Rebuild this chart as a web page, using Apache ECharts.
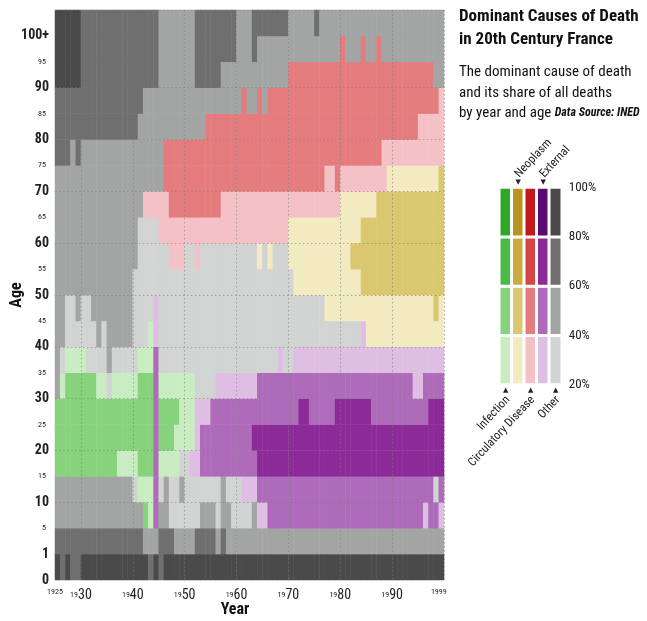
<!DOCTYPE html>
<html>
<head>
<meta charset="utf-8">
<script src="https://cdn.jsdelivr.net/npm/echarts@6/dist/echarts.min.js"></script>
<style>
  html, body { margin: 0; padding: 0; background: #fff; }
  #chart { width: 647px; height: 621px; }
</style>
</head>
<body>
<div id="chart"></div>
<script>
// -----------------------------------------------------------------------------
// Causes de deces dominantes - France, XXe siecle (heatmap annee x age)
// -----------------------------------------------------------------------------
const ageLabels = ["0", "1", "5", "10", "15", "20", "25", "30", "35", "40", "45", "50",
  "55", "60", "65", "70", "75", "80", "85", "90", "95", "100+"];
const firstYear = 1925;
const lastYear = 1999;
const yearTicks = [1925, 1930, 1940, 1950, 1960, 1970, 1980, 1990, 1999];
const causeNames = ["Infection", "Neoplasm", "Circulatory Disease", "External", "Other"];
const causeCodes = ["I", "N", "C", "E", "O"];
const shareTicks = [20, 40, 60, 80, 100];

// Cause dominante + classe de part (1: 20-40%, 2: 40-60%, 3: 60-80%, 4: 80-100%)
// chaque ligne = suites [code, derniere annee]
const age0 = [["O4", 1925], ["O3", 1926], ["O4", 1927], ["O3", 1929], ["O4", 1942], ["O3", 1943], ["O4", 1944], ["O3", 1945], ["O4", 1999]];
const age1 = [["O3", 1941], ["O2", 1944], ["O3", 1947], ["O2", 1951], ["O3", 1955], ["O2", 1956], ["O3", 1957], ["O2", 1999]];
const age5 = [["O2", 1941], ["I2", 1942], ["I1", 1943], ["E2", 1944], ["O2", 1946], ["O1", 1952], ["O2", 1955], ["O1", 1956], ["O2", 1958], ["O1", 1962], ["O2", 1963], ["E1", 1965], ["E2", 1995], ["E1", 1996], ["E2", 1998], ["E1", 1999]];
const age10 = [["O2", 1939], ["O1", 1940], ["I1", 1943], ["E2", 1944], ["O1", 1945], ["O2", 1946], ["O1", 1948], ["O2", 1949], ["O1", 1956], ["O2", 1957], ["O1", 1960], ["E1", 1963], ["E2", 1997], ["O1", 1998], ["E2", 1999]];
const age15 = [["I2", 1936], ["I1", 1940], ["I2", 1943], ["E2", 1944], ["I1", 1948], ["O1", 1950], ["E1", 1952], ["E2", 1963], ["E3", 1999]];
const age20 = [["I2", 1943], ["E2", 1944], ["I2", 1947], ["I1", 1951], ["E1", 1952], ["E2", 1962], ["E3", 1999]];
const age25 = [["I2", 1943], ["E2", 1944], ["I2", 1948], ["I1", 1951], ["E1", 1954], ["E2", 1971], ["E3", 1973], ["E2", 1978], ["E3", 1985], ["E2", 1996], ["E3", 1999]];
const age30 = [["O2", 1925], ["I1", 1926], ["I2", 1932], ["I1", 1934], ["O1", 1935], ["I1", 1940], ["I2", 1943], ["E2", 1944], ["I1", 1951], ["O1", 1955], ["E1", 1963], ["E2", 1993], ["E1", 1995], ["E2", 1999]];
const age35 = [["O2", 1925], ["O1", 1926], ["I1", 1930], ["O1", 1934], ["O2", 1935], ["O1", 1940], ["I1", 1943], ["E2", 1944], ["O1", 1967], ["E1", 1968], ["O1", 1970], ["E1", 1999]];
const age40 = [["O2", 1926], ["O1", 1932], ["O2", 1933], ["O1", 1934], ["O2", 1939], ["O1", 1942], ["I1", 1943], ["E1", 1944], ["O1", 1983], ["E1", 1984], ["N1", 1999]];
const age45 = [["O2", 1926], ["O1", 1928], ["O2", 1929], ["O1", 1931], ["O2", 1939], ["O1", 1943], ["E1", 1944], ["O1", 1976], ["N1", 1997], ["N2", 1998], ["N1", 1999]];
const age50 = [["O2", 1939], ["O1", 1970], ["N1", 1983], ["N2", 1999]];
const age55 = [["O2", 1940], ["O1", 1946], ["C1", 1949], ["O1", 1951], ["C1", 1952], ["O1", 1963], ["N1", 1964], ["O1", 1965], ["N1", 1966], ["O1", 1969], ["N1", 1981], ["N2", 1999]];
const age60 = [["O2", 1940], ["O1", 1944], ["C1", 1969], ["N1", 1983], ["N2", 1999]];
const age65 = [["O2", 1941], ["C1", 1946], ["C2", 1956], ["C1", 1979], ["N1", 1986], ["N2", 1999]];
const age70 = [["O2", 1945], ["C2", 1976], ["C1", 1978], ["C2", 1979], ["C1", 1988], ["N1", 1998], ["N2", 1999]];
const age75 = [["O3", 1927], ["O2", 1928], ["O3", 1929], ["O2", 1945], ["C2", 1987], ["C1", 1999]];
const age80 = [["O3", 1940], ["O2", 1953], ["C2", 1994], ["C1", 1999]];
const age85 = [["O3", 1941], ["O2", 1960], ["C2", 1961], ["O2", 1963], ["C2", 1964], ["O2", 1965], ["C2", 1998], ["C1", 1999]];
const age90 = [["O4", 1929], ["O3", 1944], ["O2", 1951], ["O3", 1956], ["O2", 1969], ["C2", 1997], ["O2", 1999]];
const age95 = [["O4", 1929], ["O3", 1944], ["O2", 1951], ["O3", 1959], ["O2", 1962], ["O3", 1963], ["O2", 1979], ["C2", 1980], ["O2", 1983], ["C2", 1984], ["O2", 1986], ["C2", 1987], ["O2", 1999]];
const age100 = [["O4", 1929], ["O3", 1944], ["O2", 1951], ["O3", 1959], ["O2", 1962], ["O3", 1969], ["O2", 1974], ["O3", 1975], ["O2", 1999]];

const rows = [age0, age1, age5, age10, age15, age20, age25, age30, age35, age40, age45,
  age50, age55, age60, age65, age70, age75, age80, age85, age90, age95, age100];

const PALETTE = {
  I: ["#c9ecc3", "#86d27d", "#4cba46", "#2ea82b"],
  N: ["#f2eac0", "#dac86f", "#ccab3e", "#b8931d"],
  C: ["#f4c1c7", "#e47c7e", "#d44546", "#c0181e"],
  E: ["#dfbee3", "#ad6bba", "#8c2b97", "#5c0871"],
  O: ["#d2d4d3", "#a3a5a4", "#6f6f6f", "#4a4a4a"]
};
const FONT = '"Roboto Condensed","Liberation Sans Narrow","DejaVu Sans Condensed",Roboto,sans-serif';
const INK = "#222";

const years = [];
for (let y = firstYear; y <= lastYear; y++) years.push(String(y));

const cells = [];
rows.forEach((runs, r) => {
  let y = firstYear;
  runs.forEach(([code, until]) => {
    for (; y <= until; y++) {
      const lvl = +code[1];
      cells.push({ value: [y - firstYear, r, lvl], itemStyle: { color: PALETTE[code[0]][lvl - 1] } });
    }
  });
});

const legendCells = [];
causeCodes.forEach((c, i) => {
  [0, 1, 2, 3].forEach((b) => {
    legendCells.push({ value: [i, b, b + 1], itemStyle: { color: PALETTE[c][b] } });
  });
});

const dotted = { color: "rgba(120,120,120,0.55)", width: 1, type: [1.5, 2.5] };
const bigAge = (i) => i < 2 || i % 2 === 1;

const chart = echarts.init(document.getElementById("chart"), null, { renderer: "canvas" });

chart.setOption({
  animation: false,
  backgroundColor: "#fff",
  textStyle: { fontFamily: FONT },
  grid: [
    { left: 55, top: 10, width: 389, height: 570 },
    { left: 499.25, top: 187.5, width: 62.5, height: 197 }
  ],
  xAxis: [
    {
      type: "category", gridIndex: 0, data: years, position: "bottom", z: 3,
      axisLine: { show: false }, axisTick: { show: false }, axisLabel: { show: false },
      splitLine: { show: true, interval: (i) => i > 0 && (firstYear + i) % 10 === 0, lineStyle: dotted }
    },
    {
      type: "value", gridIndex: 0, min: firstYear, max: lastYear + 1, position: "bottom",
      axisLine: { show: false }, axisTick: { show: false }, splitLine: { show: false },
      axisLabel: {
        customValues: yearTicks, margin: 8, color: INK,
        formatter: (v) => (v === firstYear || v === lastYear)
          ? `{s|${v}}` : `{s|${String(v).slice(0, 2)}}{b|${String(v).slice(2)}}`,
        rich: {
          s: { fontSize: 8, fontFamily: FONT, color: INK },
          b: { fontSize: 14, fontFamily: FONT, color: INK }
        }
      }
    },
    { type: "category", gridIndex: 1, data: causeNames, show: false }
  ],
  yAxis: [
    {
      type: "category", gridIndex: 0, data: ageLabels, position: "left", z: 3,
      axisLine: { show: false }, axisTick: { show: false }, axisLabel: { show: false },
      splitLine: { show: true, interval: (i) => i >= 3 && i <= 19 && i % 2 === 1, lineStyle: dotted }
    },
    {
      type: "value", gridIndex: 0, min: 0, max: ageLabels.length, interval: 1, position: "left",
      axisLine: { show: false }, axisTick: { show: false }, splitLine: { show: false },
      axisLabel: {
        margin: 6, color: INK,
        formatter: (v) => {
          const t = ageLabels[v];
          if (t == null) return "";
          return bigAge(v) ? `{b|${t}}` : `{s|${t}}`;
        },
        rich: {
          s: { fontSize: 8, fontFamily: FONT, color: INK, padding: [0, 3, 0, 0] },
          b: { fontSize: 14, fontWeight: "bold", fontFamily: FONT, color: INK }
        }
      }
    },
    { type: "category", gridIndex: 1, data: ["20", "40", "60", "80"], show: false },
    {
      type: "value", gridIndex: 1, min: 20, max: 100, interval: 20, position: "right",
      axisLine: { show: false }, axisTick: { show: false }, splitLine: { show: false },
      axisLabel: { margin: 7, fontSize: 13, color: INK, fontFamily: FONT, formatter: "{value}%" }
    }
  ],
  series: [
    {
      type: "heatmap", xAxisIndex: 0, yAxisIndex: 0, data: cells, progressive: 0,
      emphasis: { disabled: true }, silent: true
    },
    {
      type: "heatmap", xAxisIndex: 2, yAxisIndex: 2, data: legendCells, progressive: 0,
      itemStyle: { borderColor: "#fff", borderWidth: 3 },
      emphasis: { disabled: true }, silent: true
    }
  ],
  graphic: [
    { type: "text", x: 459, y: 5, style: { text: "Dominant Causes of Death\nin 20th Century France", font: `bold 17px ${FONT}`, fill: "#111", lineHeight: 23 } },
    {
      type: "text", x: 459, y: 62,
      style: {
        text: "The dominant cause of death\nand its share of all deaths\nby year and age {src|Data Source: INED}",
        font: `15px ${FONT}`, fill: "#111", lineHeight: 20.5,
        rich: { src: { font: `italic bold 12px ${FONT}`, fill: "#111" } }
      }
    },
    { type: "text", x: 17, y: 295, rotation: Math.PI / 2, style: { text: "Age", font: `bold 16px ${FONT}`, fill: "#111", align: "center", verticalAlign: "middle" } },
    { type: "text", x: 235, y: 610, style: { text: "Year", font: `bold 16px ${FONT}`, fill: "#111", align: "center", verticalAlign: "middle" } },
    // fleches et noms des causes autour de la legende
    { type: "text", x: 518.3, y: 182, style: { text: "\u25BC", font: "7px 'DejaVu Sans'", fill: INK, align: "center", verticalAlign: "middle" } },
    { type: "text", x: 543.3, y: 182, style: { text: "\u25BC", font: "7px 'DejaVu Sans'", fill: INK, align: "center", verticalAlign: "middle" } },
    { type: "text", x: 505.7, y: 390, style: { text: "\u25B2", font: "7px 'DejaVu Sans'", fill: INK, align: "center", verticalAlign: "middle" } },
    { type: "text", x: 530.7, y: 390, style: { text: "\u25B2", font: "7px 'DejaVu Sans'", fill: INK, align: "center", verticalAlign: "middle" } },
    { type: "text", x: 555.7, y: 390, style: { text: "\u25B2", font: "7px 'DejaVu Sans'", fill: INK, align: "center", verticalAlign: "middle" } },
    { type: "text", x: 517, y: 176, rotation: 0.82, style: { text: "Neoplasm", font: `12px ${FONT}`, fill: INK, align: "left", verticalAlign: "middle" } },
    { type: "text", x: 542, y: 176, rotation: 0.82, style: { text: "External", font: `12px ${FONT}`, fill: INK, align: "left", verticalAlign: "middle" } },
    { type: "text", x: 508, y: 398, rotation: 0.82, style: { text: "Infection", font: `12px ${FONT}`, fill: INK, align: "right", verticalAlign: "middle" } },
    { type: "text", x: 533, y: 398, rotation: 0.82, style: { text: "Circulatory Disease", font: `12px ${FONT}`, fill: INK, align: "right", verticalAlign: "middle" } },
    { type: "text", x: 558, y: 398, rotation: 0.82, style: { text: "Other", font: `12px ${FONT}`, fill: INK, align: "right", verticalAlign: "middle" } }
  ]
});
</script>
</body>
</html>
